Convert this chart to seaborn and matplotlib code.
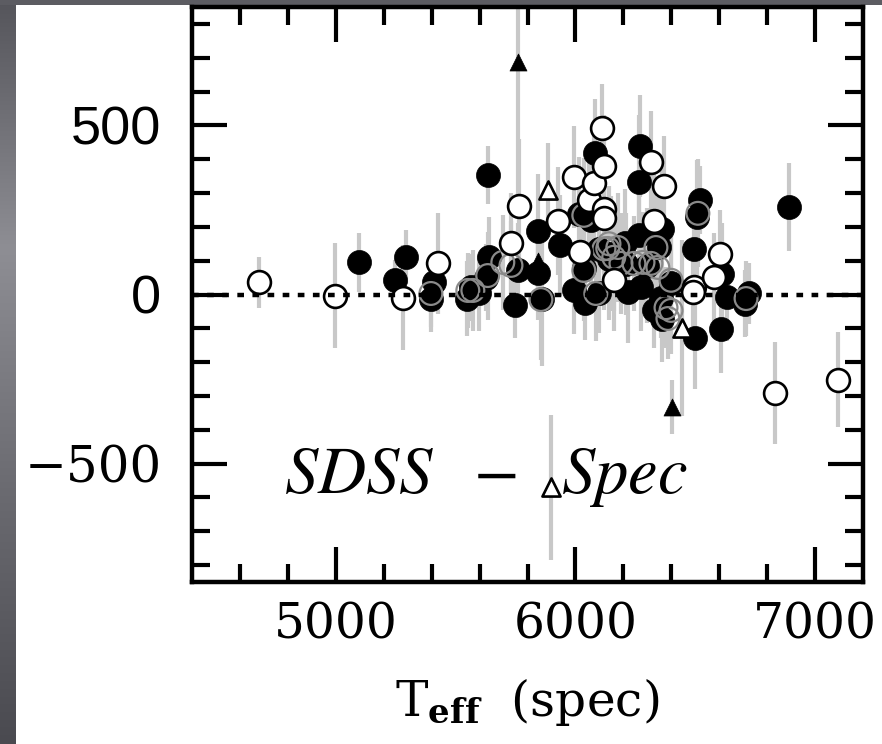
import numpy as np
import pandas as pd
import matplotlib
matplotlib.use("Agg")
import matplotlib.pyplot as plt
import seaborn as sns

# ---------------- data ----------------
filled_T = [5096, 5246, 5292, 5409, 5397, 5547, 5563, 5597, 5634, 5639, 5626, 5760, 5747, 5843, 5843,
            5860, 5935, 5994, 6015, 6035, 6040, 6081, 6065, 6098, 6100, 6150, 6206, 6219, 6269, 6265,
            6265, 6273, 6349, 6360, 6399, 6328, 6357, 6363, 6499, 6520, 6507, 6495, 6607, 6632, 6724,
            6708, 6891, 6612, 6210, 6300, 6140]
filled_D = [95, 42, 110, 36, -12, -12, 21, 3, 353, 110, 50, 71, -30, 187, 65,
            -12, 145, 12, 237, 77, -24, 418, 220, 136, 5, 120, 151, 6, 439, 332,
            175, 21, 140, 195, 33, -47, -9, -71, -128, 279, 228, 136, -101, -6, 3,
            -27, 258, 62, 90, 85, 105]
filled_err = [88, 60, 80, 80, 100, 110, 100, 110, 85, 120, 100, 140, 100, 170, 140,
              200, 150, 130, 170, 140, 110, 160, 190, 160, 120, 170, 160, 150, 150, 200,
              180, 130, 160, 190, 140, 110, 120, 130, 150, 100, 170, 140, 130, 130, 90,
              100, 130, 150, 150, 170, 180]

open_T = [4679, 4996, 5280, 5426, 5731, 5764, 5927, 5994, 6019, 6056, 6077, 6111, 6119, 6119, 6119,
          6161, 6315, 6369, 6328, 6494, 6490, 6578, 6603, 6833, 7096]
open_D = [36, -3, -9, 92, 151, 261, 217, 347, 125, 279, 329, 493, 380, 252, 225,
          42, 392, 320, 217, 21, 6, 53, 119, -291, -252]
open_err = [75, 155, 155, 150, 150, 200, 160, 150, 150, 160, 170, 130, 150, 160, 160,
            150, 150, 150, 140, 150, 160, 130, 130, 150, 140]

gray_T = [5397, 5551, 5572, 5634, 5697, 5731, 5856, 6035, 6035, 6085, 6119, 6140, 6160, 6135,
          6177, 6190, 6244, 6282, 6315, 6344, 6336, 6399, 6378, 6399, 6386, 6511, 6712]
gray_D = [3, 12, 12, 56, 95, 86, -15, 71, 234, 3, 135, 150, 110, 136,
          139, 92, 92, 95, 92, 80, 139, 42, -39, -47, -71, 240, -12]
gray_err = [100, 110, 120, 130, 140, 130, 180, 150, 170, 140, 180, 170, 160, 150,
            160, 150, 140, 150, 160, 150, 150, 140, 120, 130, 120, 160, 110]

tri_filled_T = [5760, 6403, 5843]
tri_filled_D = [688, -332, 100]
tri_filled_err = [430, 80, 100]

tri_open_T = [5885, 6445, 5898]
tri_open_D = [309, -98, -570]
tri_open_err = [140, 260, 215]

x_ticks = [5000, 6000, 7000]
x_tick_labels = ["5000", "6000", "7000"]
y_ticks = [-500, 0, 500]
y_tick_labels = ["\u2212500", "0", "500"]

# ---------------- figure ----------------
sns.set_style("ticks")
plt.rcParams["font.family"] = ["DejaVu Serif", "DejaVu Sans"]
plt.rcParams["mathtext.fontset"] = "dejavuserif"
plt.rcParams["text.color"] = "black"
plt.rcParams["axes.labelcolor"] = "black"
plt.rcParams["xtick.color"] = "black"
plt.rcParams["ytick.color"] = "black"

fig = plt.figure(figsize=(8.82, 7.44), dpi=100, facecolor="white")

# slide background edges (gray bands at left and top)
grad = np.linspace(0, 1, 256).reshape(-1, 1)
bax = fig.add_axes([0, 0, 15 / 882, 1])
bax.imshow(grad, aspect="auto", cmap=matplotlib.colors.LinearSegmentedColormap.from_list(
    "g", ["#55555b", "#8e8e94", "#6a6a70", "#4a4a50"]), extent=[0, 1, 0, 1])
bax.set_axis_off()
tax = fig.add_axes([0, 1 - 5 / 744, 1, 5 / 744])
tax.set_facecolor("#5c5c62")
tax.set_xticks([]); tax.set_yticks([])
for s in tax.spines.values():
    s.set_visible(False)

ax = fig.add_axes([192 / 882, 1 - 582 / 744, (863 - 192) / 882, (582 - 7) / 744])

df_f = pd.DataFrame({"T": filled_T, "D": filled_D, "e": filled_err})
df_o = pd.DataFrame({"T": open_T, "D": open_D, "e": open_err})
df_g = pd.DataFrame({"T": gray_T, "D": gray_D, "e": gray_err})
df_tf = pd.DataFrame({"T": tri_filled_T, "D": tri_filled_D, "e": tri_filled_err})
df_to = pd.DataFrame({"T": tri_open_T, "D": tri_open_D, "e": tri_open_err})

ebc = "#c8c8c8"
for d in (df_g, df_f, df_o, df_tf, df_to):
    ax.errorbar(d["T"], d["D"], yerr=d["e"], fmt="none", ecolor=ebc, elinewidth=3.0,
                capsize=0, zorder=1)

sns.scatterplot(data=df_f, x="T", y="D", ax=ax, marker="o", s=300, color="black",
                edgecolor="black", linewidth=0.5, zorder=2, legend=False)
sns.scatterplot(data=df_g, x="T", y="D", ax=ax, marker="o", s=270, facecolor="none",
                edgecolor="#8a8a8a", linewidth=1.6, zorder=3, legend=False)
sns.scatterplot(data=df_o, x="T", y="D", ax=ax, marker="o", s=270, color="white",
                edgecolor="black", linewidth=1.9, zorder=4, legend=False)
sns.scatterplot(data=df_tf, x="T", y="D", ax=ax, marker="^", s=150, color="black",
                edgecolor="black", linewidth=0.5, zorder=4, legend=False)
sns.scatterplot(data=df_to, x="T", y="D", ax=ax, marker="^", s=170, color="white",
                edgecolor="black", linewidth=1.9, zorder=4, legend=False)

ax.axhline(0, color="black", lw=3.2, dashes=(1.5, 1.9), zorder=5)

ax.text(4783, -587, r"$SDSS\ \ -\ \ Spec$", fontsize=48, math_fontfamily="stix",
        ha="left", va="baseline", color="black", zorder=6)

ax.set_xlim(4400, 7200)
ax.set_ylim(-850, 850)
ax.set_xticks(x_ticks)
ax.set_xticklabels(x_tick_labels)
ax.set_yticks(y_ticks)
ax.set_yticklabels(y_tick_labels)
ax.set_xticks(np.arange(4600, 7200, 200), minor=True)
ax.set_yticks(np.arange(-800, 850, 100), minor=True)

ax.tick_params(which="both", direction="in", top=True, right=True, width=3.0,
               color="black", labelcolor="black")
ax.tick_params(which="major", length=25)
ax.tick_params(which="minor", length=13)
ax.tick_params(axis="x", which="major", labelsize=35, pad=14)
ax.tick_params(axis="y", which="major", labelsize=39, pad=22)
for lab in ax.get_yticklabels():
    if lab.get_text() in ("0", "500"):
        lab.set_fontfamily(["Liberation Sans", "DejaVu Sans"])
    else:
        lab.set_fontsize(36)
for s in ax.spines.values():
    s.set_linewidth(3.2)
    s.set_color("black")

ax.set_xlabel(r"$\mathrm{T}_{\mathbf{eff}}$  (spec)", fontsize=35, labelpad=20,
              color="black")
ax.set_ylabel("")

fig.savefig("out.png", dpi=100, facecolor="white")
